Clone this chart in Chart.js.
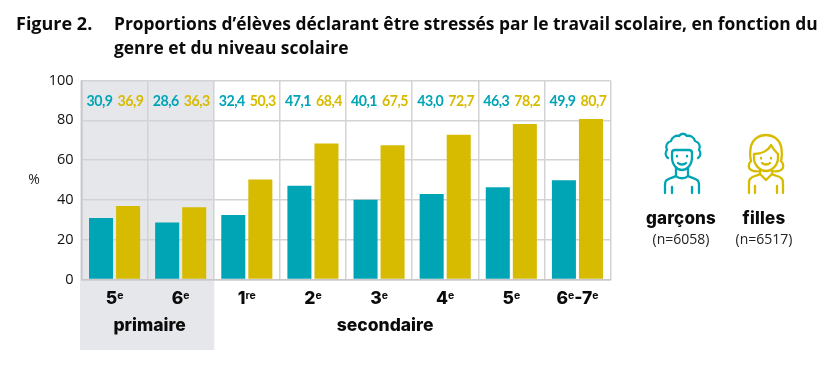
<!DOCTYPE html>
<html lang="fr"><head><meta charset="utf-8">
<style>
html,body{margin:0;padding:0;background:#fff;width:837px;height:374px;overflow:hidden}
#wrap{position:relative;width:837px;height:374px}
canvas{position:absolute;left:0;top:0}
.t{position:absolute;color:#0b0b0b;white-space:nowrap}
.title{font:700 17.4px "Open Sans",sans-serif;line-height:24px}
.lg{font:800 17px Inter,sans-serif;width:100px;text-align:center;letter-spacing:.2px}
.ln{font:400 14px "Open Sans",sans-serif;width:100px;text-align:center;color:#222}
svg{position:absolute;fill:none;stroke-width:2.3;stroke-linecap:round;stroke-linejoin:round}
</style>
<script src="https://cdn.jsdelivr.net/npm/chart.js@4/dist/chart.umd.min.js"></script>
</head><body><div id="wrap">
<canvas id="c" width="837" height="374"></canvas>
<div class="t title" style="left:16px;top:11px;font-size:18px">Figure 2.</div>
<div class="t title" style="left:114px;top:11px">Proportions d’élèves déclarant être stressés par le travail scolaire, en fonction du<br>genre et du niveau scolaire</div>

<svg style="left:660px;top:130px;stroke:#00A5B5" width="44" height="66" viewBox="0 0 44 66">
<path d="M8 28c-3-2-3-6-1-8-2-4 0-8 4-9 1-4 5-6 8-5 2-3 6-3 8 0 3-1 7 1 8 5 4 1 6 5 4 9 2 2 2 6-1 8"/>
<path d="M12 27v-4c0-2 1-3 3-3 4 0 10 0 14 0 2 0 3 1 3 3v4c0 8-5 13-10 13s-10-5-10-13z"/>
<path d="M16 38v8c-3 2-7 2-9 4-2 1-2 3-2 5v8M28 38v8c3 2 7 2 9 4 2 1 2 3 2 5v8M16 46c3 3 9 3 12 0M12 57v6M32 57v6"/>
<path d="M17 26v.5M27 26v.5M18 33c2 2 6 2 8 0"/>
</svg>
<svg style="left:744px;top:130px;stroke:#D7BB00" width="44" height="66" viewBox="0 0 44 66">
<path d="M7 31c-1-4-1-10 0-15 2-7 8-11 15-11s13 4 15 11c1 5 1 11 0 15"/>
<path d="M10 24c7 0 14-3 17-9 2 4 5 7 7 9M10 24v4c0 7 6 13 12 13s12-6 12-13v-4"/>
<path d="M7 31c-3 3-3 7 0 9 2 1 5 2 9 1M37 31c3 3 3 7 0 9-2 1-5 2-9 1"/>
<path d="M16 41v3c-3 2-8 2-10 5-1 1-1 3-1 5v9M28 41v3c3 2 8 2 10 5 1 1 1 3 1 5v9M16 44l6 6 6-6M11 56v7M33 56v7"/>
<path d="M17 28v.5M27 28v.5M18 33c2 2 6 2 8 0"/>
</svg>

<div class="t lg" style="left:631px;top:208px">garçons</div>
<div class="t ln" style="left:631px;top:229px">(n=6058)</div>
<div class="t lg" style="left:714px;top:208px">filles</div>
<div class="t ln" style="left:714px;top:229px">(n=6517)</div>
</div>
<script>
const gradeMain = ['5','6','1','2','3','4','5','6'];
const gradeSup = ['e','e','re','e','e','e','e','e'];
const gradeTail = ['','','','','','','','-7'];
const gradeTailSup = ['','','','','','','','e'];
const categories = ['5e','6e','1re','2e','3e','4e','5e','6e-7e'];
const garcons = [30.9,28.6,32.4,47.1,40.1,43.0,46.3,49.9];
const filles = [36.9,36.3,50.3,68.4,67.5,72.7,78.2,80.7];
const yTicks = [0,20,40,60,80,100];
const TEAL='#00A5B5', GOLD='#D7BB00', GRID='#D3D3D5';
const fr = v => v.toFixed(1).replace('.',',');

const shade = {id:'shade',beforeDraw(ch){
  const {ctx,scales:{x}}=ch;
  const step=x.getPixelForValue(1)-x.getPixelForValue(0);
  const x0=x.getPixelForValue(0)-step/2-1.5, x1=x.getPixelForValue(1)+step/2+.5;
  ctx.save();ctx.fillStyle='#E6E7EB';
  ctx.fillRect(x0,ch.chartArea.top,x1-x0,350-ch.chartArea.top);
  ctx.restore();
}};
const labels = {id:'labels',afterDraw(ch){
  const {ctx,scales:{x,y}}=ch;
  ctx.save();ctx.textBaseline='alphabetic';
  const yv=y.getPixelForValue(90)+5.5;
  categories.forEach((c,i)=>{
    const cx=x.getPixelForValue(i);
    ctx.font='700 14.2px Lato,sans-serif';
    ctx.letterSpacing='-0.5px';
    const a=fr(garcons[i]), b=fr(filles[i]);
    const wa=ctx.measureText(a).width, wb=ctx.measureText(b).width, gap=5;
    let sx=cx-(wa+wb+gap)/2+.5; ctx.textAlign='left';
    ctx.fillStyle=TEAL;ctx.fillText(a,sx,yv);
    ctx.fillStyle=GOLD;ctx.fillText(b,sx+wa+gap,yv);
    ctx.letterSpacing='0px';
    const big='800 17.5px Inter,sans-serif', small='700 10.5px Inter,sans-serif';
    const parts=[[gradeMain[i],big,0],[gradeSup[i],small,-5.5],[gradeTail[i],big,0],[gradeTailSup[i],small,-5.5]];
    let w=0;parts.forEach(p=>{ctx.font=p[1];w+=ctx.measureText(p[0]).width;});
    let px=cx-w/2;ctx.fillStyle='#0b0b0b';
    parts.forEach(p=>{ctx.font=p[1];ctx.fillText(p[0],px,304+p[2]);px+=ctx.measureText(p[0]).width;});
  });
  ctx.textAlign='center';ctx.font='800 17.5px Inter,sans-serif';ctx.fillStyle='#0b0b0b';
  ctx.fillText('primaire',(x.getPixelForValue(0)+x.getPixelForValue(1))/2+2,331);
  ctx.fillText('secondaire',x.getPixelForValue(4)+6,331);
  ctx.font='400 14px "Open Sans",sans-serif';ctx.fillStyle='#222';
  ctx.fillText('%',34,184);
  ctx.restore();
}};
new Chart(document.getElementById('c'),{
  type:'bar',
  data:{labels:categories,datasets:[
    {label:'garçons',data:garcons,backgroundColor:TEAL},
    {label:'filles',data:filles,backgroundColor:GOLD}
  ]},
  plugins:[shade,labels],
  options:{
    responsive:false,animation:false,
    layout:{padding:{left:0,right:226.5,top:80.5,bottom:0}},
    datasets:{bar:{categoryPercentage:54/66,barPercentage:24/27}},
    plugins:{legend:{display:false},tooltip:{enabled:false},title:{display:false}},
    scales:{
      x:{grid:{color:GRID,lineWidth:1.5,drawTicks:false,offset:true},border:{color:'#C8C8CA',width:1.5},
         ticks:{display:false},afterFit(s){s.height=94.5;}},
      y:{min:0,max:100,
         afterBuildTicks(s){s.ticks=yTicks.map(v=>({value:v}));},
         grid:{color:GRID,lineWidth:1.5,drawTicks:false},border:{color:'#C8C8CA',width:1.5},
         ticks:{color:'#111',font:{family:'"Open Sans",sans-serif',size:14.5},padding:8},
         afterFit(s){s.width=81.5;}}
    }
  }
});
</script>
</body></html>
